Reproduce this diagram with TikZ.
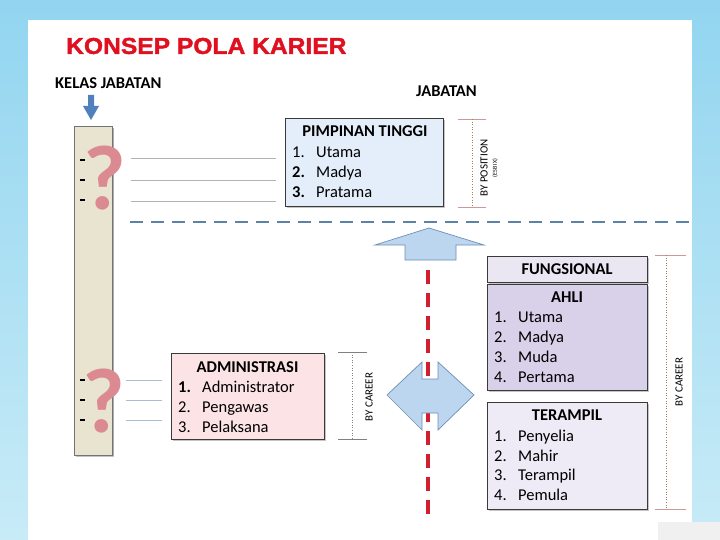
\documentclass[tikz,border=0pt]{standalone}
\usepackage{fontspec}
\setmainfont{Carlito}
\newfontfamily\titlefont[FakeBold=1.5]{Liberation Sans Bold}
\usetikzlibrary{shadows}
\definecolor{bgtop}{HTML}{92D5F0}
\definecolor{bgbot}{HTML}{C8EBF7}
\definecolor{titlered}{HTML}{E01020}
\definecolor{arrowblue}{HTML}{4F81BD}
\definecolor{tan}{HTML}{E9E4D0}
\definecolor{qpink}{HTML}{DB8A92}
\definecolor{boxborder}{HTML}{3A3A3A}
\definecolor{blueboxfill}{HTML}{E4EEFA}
\definecolor{pinkfill}{HTML}{FCE4E6}
\definecolor{ahlifill}{HTML}{D9D1E9}
\definecolor{terfill}{HTML}{EEEAF6}
\definecolor{fungfill}{HTML}{EAE6F2}
\definecolor{dashblue}{HTML}{5C82A6}
\definecolor{dashred}{HTML}{D21F2E}
\definecolor{arrfill}{HTML}{BDD6EF}
\definecolor{arrborder}{HTML}{6E8FB5}
\begin{document}
\begin{tikzpicture}[x=1pt,y=-1pt,
  box/.style={draw=boxborder, line width=1pt, anchor=north west, inner sep=0pt, outer sep=0pt,
    drop shadow={shadow xshift=1.5pt, shadow yshift=-1.5pt, fill=black!45}},
  hdr/.style={font=\bfseries\fontsize{16.5}{16.5}\selectfont, anchor=base},
  itm/.style={font=\fontsize{16.5}{16.5}\selectfont, anchor=base west, inner sep=0pt},
  guide/.style={draw=black!30, line width=0.6pt},
  tick/.style={draw=red!35!gray!60, line width=0.8pt},
  dimv/.style={draw=brown!60!gray, line width=0.6pt, dotted},
  rot/.style={rotate=90, font=\fontsize{11}{11}\selectfont, inner sep=0pt},
  qm/.style={font=\bfseries\fontsize{92}{92}\selectfont, text=qpink, inner sep=0pt}]
\useasboundingbox (0,0) rectangle (720,540);
\shade[top color=bgtop, bottom color=bgbot] (0,0) rectangle (720,540);
\fill[white] (28,20) rectangle (692,540);
\fill[black!6] (658,522) rectangle (720,540);

% title
\node[anchor=west, inner sep=0pt, text=titlered] (title) at (66,46)
  {\titlefont\fontsize{23}{23}\selectfont\scalebox{1.07}[1]{KONSEP POLA KARIER}};
\node[anchor=west, inner sep=0pt, font=\bfseries\fontsize{16.5}{16.5}\selectfont] (kelas) at (55,83) {KELAS JABATAN};
\node[anchor=west, inner sep=0pt, font=\bfseries\fontsize{16.5}{16.5}\selectfont] (jabatan) at (416,91) {JABATAN};

% down arrow
\fill[arrowblue] (88,95) -- (94,95) -- (94,106) -- (99,106) -- (91,120) -- (83,106) -- (88,106) -- cycle;

% tan bar
\node[box, draw=black!55, fill=tan, minimum width=38pt, minimum height=328pt,
  drop shadow={shadow xshift=1.5pt, shadow yshift=-1pt, fill=black!40}] (bar) at (74,127) {};
\node[qm] (q1) at (105,178) {?};
\node[qm] (q2) at (104,401) {?};
\foreach \yy in {160,180,200,380,400,420}
  \fill (80,\yy-1.2) rectangle (84.5,\yy+1.2);

% guide lines
\foreach \yy in {158,180,201}
  \draw[guide] (131,\yy) -- (276,\yy);
\foreach \yy in {380,400,420}
  \draw[guide, draw=arrborder!60] (126,\yy) -- (162,\yy);

% PIMPINAN TINGGI
\node[box, fill=blueboxfill, minimum width=158pt, minimum height=88pt] (pim) at (285,119) {};
\node[hdr] (pimh) at (365,137) {PIMPINAN TINGGI};
\node[itm] at (292,158) {1.}; \node[itm] at (316,158) {Utama};
\node[itm] at (292,178) {\textbf{2.}}; \node[itm] at (316,178) {Madya};
\node[itm] at (292,198) {\textbf{3.}}; \node[itm] at (316,198) {Pratama};
\draw[tick] (458,119) -- (486,119);
\draw[tick] (458,207) -- (486,207);
\draw[dimv] (472,119) -- (472,207);
\node[rot] (bypos) at (484,168) {BY POSITION};
\node[rot, font=\fontsize{6}{6}\selectfont] (esb) at (495,168) {(ESB IX)};

% blue dashed line
\draw[dashblue, line width=2.6pt, dash pattern=on 13pt off 8pt] (130,222) -- (690,222);

% up arrow
\draw[fill=arrfill, draw=arrborder, line width=0.7pt]
  (405,260) -- (405,245) -- (375,245) -- (429,228) -- (484,245) -- (456,245) -- (456,260) -- cycle;

% red dashed line
\draw[dashred, line width=3.5pt, dash pattern=on 14pt off 9pt] (428,270) -- (428,515);

% double arrow
\draw[fill=arrfill, draw=arrborder, line width=0.7pt]
  (387,395) -- (422,362) -- (422,379) -- (438,379) -- (438,362) -- (474,395)
  -- (438,430) -- (438,413) -- (422,413) -- (422,430) -- cycle;

% FUNGSIONAL
\node[box, fill=fungfill, minimum width=160pt, minimum height=26pt] (fung) at (487,256) {};
\node[hdr] at (567,274) {FUNGSIONAL};
\node[box, fill=ahlifill, minimum width=160pt, minimum height=106pt] (ahli) at (487,284) {};
\node[hdr] at (567,302) {AHLI};
\node[itm] at (494,322) {1.}; \node[itm] at (518,322) {Utama};
\node[itm] at (494,342) {2.}; \node[itm] at (518,342) {Madya};
\node[itm] at (494,362) {3.}; \node[itm] at (518,362) {Muda};
\node[itm] at (494,382) {4.}; \node[itm] at (518,382) {Pertama};
\node[box, fill=terfill, minimum width=160pt, minimum height=107pt] (ter) at (487,402) {};
\node[hdr] at (567,420) {TERAMPIL};
\node[itm] at (494,441) {1.}; \node[itm] at (518,441) {Penyelia};
\node[itm] at (494,461) {2.}; \node[itm] at (518,461) {Mahir};
\node[itm] at (494,480) {3.}; \node[itm] at (518,480) {Terampil};
\node[itm] at (494,500) {4.}; \node[itm] at (518,500) {Pemula};
\draw[tick] (655,255) -- (686,255);
\draw[tick] (655,509) -- (686,509);
\draw[dimv] (666,255) -- (666,509);
\node[rot] (bycar2) at (679,382) {BY CAREER};

% ADMINISTRASI
\node[box, fill=pinkfill, minimum width=153pt, minimum height=86pt] (adm) at (171,353) {};
\node[hdr] at (247.5,372) {ADMINISTRASI};
\node[itm] at (178,392) {\textbf{1.}}; \node[itm] at (202,392) {Administrator};
\node[itm] at (178,412) {2.}; \node[itm] at (202,412) {Pengawas};
\node[itm] at (178,432) {3.}; \node[itm] at (202,432) {Pelaksana};
\draw[tick, draw=black!50] (338,352) -- (367,352);
\draw[tick, draw=black!50] (338,439) -- (367,439);
\draw[dimv, draw=black!50] (352,352) -- (352,439);
\node[rot] (bycar1) at (369,397) {BY CAREER};
\end{tikzpicture}
\end{document}
